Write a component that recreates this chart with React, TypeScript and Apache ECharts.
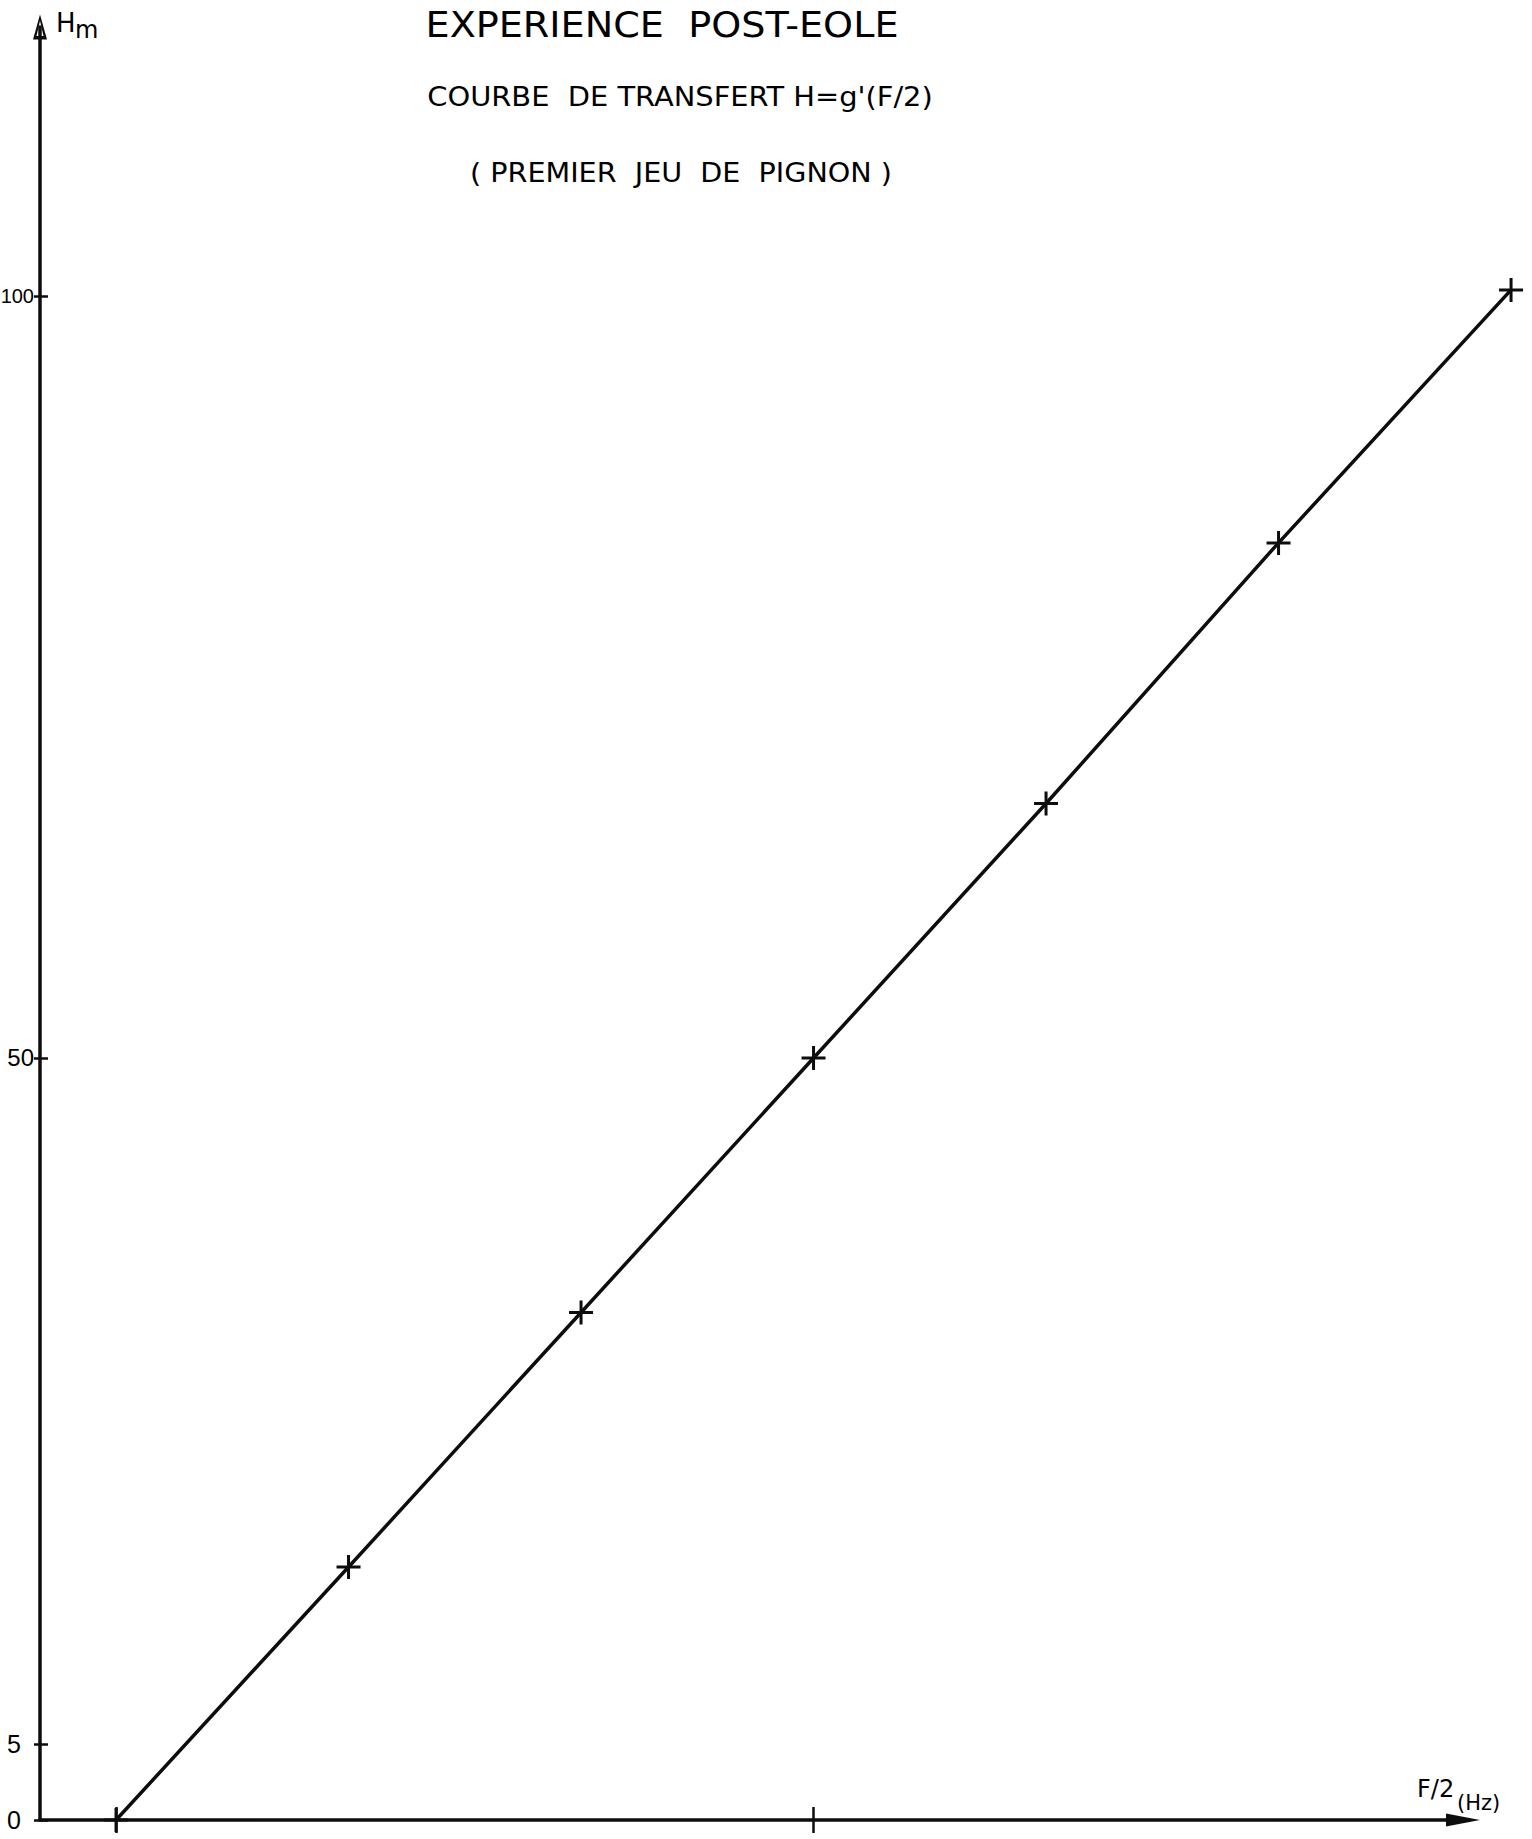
import React, { useEffect, useRef } from "react";
import * as echarts from "echarts";

// F/2 steps (Hz, read as equally spaced marks) and heights Hm
const frequencies = [1, 2, 3, 4, 5, 6, 7];
const heights = [0, 16.6, 33.3, 50, 66.7, 83.8, 100.4];
const yTickValues = [0, 5, 50, 100];
const xTickValues = [1, 4];
const titleText = "EXPERIENCE  POST-EOLE";
const subtitleText = "COURBE  DE TRANSFERT H=g'(F/2)";
const subtitle2Text = "( PREMIER  JEU  DE  PIGNON )";
const yName = ["H", "m"];
const xName = ["F/2", "(Hz)"];

const X_MIN = 0.673;
const X_MAX_AXIS = 6.793;
const X_MAX_PLOT = 7.06;
const Y_MIN = 0;
const Y_MAX = 117.65;

const INK = "#0d0d0d";
const FONT = '"DejaVu Sans", sans-serif';
const LABEL_FONT = '"Liberation Sans", Arial, sans-serif';

export default function App() {
  const ref = useRef<HTMLDivElement>(null);

  useEffect(() => {
    if (!ref.current) return;
    const chart = echarts.init(ref.current, undefined, { renderer: "svg" });
    const hollowArrow = "path://M0,0 L10,36 L-10,36 Z M0,9 L-5,31 L5,31 Z";
    const tickStyle = { color: INK, width: 2.5 };
    const option: any = {
      animation: false,
      backgroundColor: "#ffffff",
      grid: [
        { left: 40, right: 69, top: 27, bottom: 19, containLabel: false, outerBoundsMode: "none" },
        { left: 40, right: 7, top: 27, bottom: 19, containLabel: false, outerBoundsMode: "none" },
      ],
      xAxis: [
        {
          type: "value",
          gridIndex: 0,
          min: X_MIN,
          max: X_MAX_AXIS,
          axisLine: {
            show: true,
            onZero: false,
            lineStyle: { color: INK, width: 3.5 },
            symbol: ["none", "triangle"],
            symbolSize: [13, 34],
          },
          axisTick: { show: true, customValues: xTickValues, length: 13, lineStyle: tickStyle },
          axisLabel: { show: false },
          splitLine: { show: false },
        },
        {
          type: "value",
          gridIndex: 1,
          min: X_MIN,
          max: X_MAX_PLOT,
          axisLine: { show: false, onZero: false },
          axisTick: { show: true, inside: true, customValues: xTickValues, length: 13, lineStyle: tickStyle },
          axisLabel: { show: false },
          splitLine: { show: false },
        },
      ],
      yAxis: [
        {
          type: "value",
          gridIndex: 0,
          min: Y_MIN,
          max: Y_MAX,
          axisLine: {
            show: true,
            onZero: false,
            lineStyle: { color: INK, width: 3.5 },
            symbol: ["none", hollowArrow],
            symbolSize: [14, 38],
          },
          axisTick: { show: true, customValues: yTickValues, length: 6, lineStyle: tickStyle },
          axisLabel: {
            show: true,
            customValues: yTickValues,
            margin: 6,
            color: "#000",
            fontFamily: LABEL_FONT,
            fontSize: 20,
            formatter: (v: number) => {
              const s = String(v);
              if (s.length === 1) return `{s|${s}}`;
              if (s.length === 2) return `{d|${s}}`;
              return `{t|${s}}`;
            },
            rich: {
              t: { fontFamily: LABEL_FONT, fontSize: 20, color: "#000" },
              d: { fontFamily: LABEL_FONT, fontSize: 24, color: "#000" },
              s: { fontFamily: LABEL_FONT, fontSize: 25, color: "#000", padding: [0, 13, 0, 0] },
            },
          },
          splitLine: { show: false },
        },
        {
          type: "value",
          gridIndex: 1,
          min: Y_MIN,
          max: Y_MAX,
          axisLine: { show: false, onZero: false },
          axisTick: { show: true, inside: true, customValues: yTickValues, length: 8, lineStyle: tickStyle },
          axisLabel: { show: false },
          splitLine: { show: false },
        },
      ],
      series: [
        {
          type: "line",
          xAxisIndex: 1,
          yAxisIndex: 1,
          data: frequencies.map((f, i) => [f, heights[i]]),
          clip: false,
          symbol: "path://M0,-12 L0,12 M-12,0 L12,0",
          symbolSize: 24,
          showAllSymbol: true,
          lineStyle: { color: INK, width: 3.5 },
          itemStyle: { color: INK, borderColor: INK, borderWidth: 3 },
          z: 5,
        },
      ],
      graphic: [
        {
          type: "text",
          x: 662,
          y: 25,
          scaleX: 1.06,
          style: { text: titleText, font: `36px ${FONT}`, fill: "#000", align: "center", verticalAlign: "middle" },
        },
        {
          type: "text",
          x: 680,
          y: 97,
          scaleX: 1.07,
          style: { text: subtitleText, font: `27px ${FONT}`, fill: "#000", align: "center", verticalAlign: "middle" },
        },
        {
          type: "text",
          x: 681,
          y: 173,
          scaleX: 1.1,
          style: { text: subtitle2Text, font: `26px ${FONT}`, fill: "#000", align: "center", verticalAlign: "middle" },
        },
        {
          type: "text",
          x: 56,
          y: 23,
          style: { text: yName[0], font: `26px ${FONT}`, fill: "#000", align: "left", verticalAlign: "middle" },
        },
        {
          type: "text",
          x: 75,
          y: 30,
          style: { text: yName[1], font: `24px ${FONT}`, fill: "#000", align: "left", verticalAlign: "middle" },
        },
        {
          type: "text",
          x: 1417,
          y: 1789,
          style: { text: xName[0], font: `24px ${FONT}`, fill: "#000", align: "left", verticalAlign: "middle" },
        },
        {
          type: "text",
          x: 1457,
          y: 1803,
          style: { text: xName[1], font: `21px ${FONT}`, fill: "#000", align: "left", verticalAlign: "middle" },
        },
      ],
    };
    chart.setOption(option);
    return () => chart.dispose();
  }, []);

  return (
    <div
      ref={ref}
      style={{ position: "absolute", left: 0, top: 0, width: 1532, height: 1839, background: "#fff" }}
    />
  );
}
